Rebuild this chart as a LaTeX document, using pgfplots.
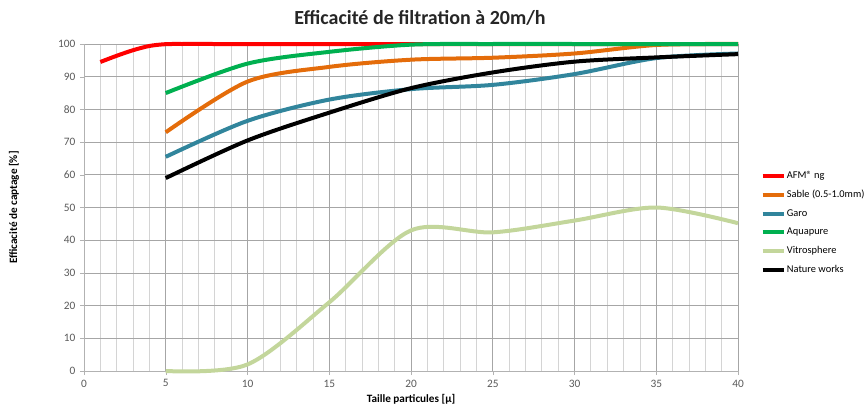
\documentclass[border=0pt]{standalone}
\usepackage{pgfplots}
\pgfplotsset{compat=1.18}
\usepackage{fontspec}
\setmainfont{Carlito}
\definecolor{cafm}{RGB}{255,0,0}
\definecolor{csable}{RGB}{228,108,10}
\definecolor{cgaro}{RGB}{49,133,156}
\definecolor{caqua}{RGB}{0,176,80}
\definecolor{cvitro}{RGB}{195,214,155}
\definecolor{ctick}{RGB}{89,89,89}
\begin{document}
\begin{tikzpicture}
\useasboundingbox (-63pt,-27.75pt) rectangle (585pt,278.25pt);
\begin{axis}[
  scale only axis,
  width=490.5pt, height=245.25pt,
  xmin=0, xmax=40, ymin=0, ymax=100,
  xtick={0,5,...,40}, ytick={0,10,...,100},
  minor x tick num=4,
  axis x line=bottom, axis y line=left,
  axis line style={draw=black!30,-},
  major tick length=3pt, tick align=outside,
  minor tick length=0pt,
  ymajorgrids, xmajorgrids, xminorgrids,
  major grid style={draw=black!35, line width=0.6pt},
  minor grid style={draw=black!17, line width=0.6pt},
  tick style={draw=black!30},
  ticklabel style={font=\fontsize{8.5}{10}\selectfont, text=ctick},
  /pgf/number format/assume math mode=true,
  clip=false,
  legend style={at={(1.034,0.611)}, anchor=north west, draw=none, fill=none,
    font=\fontsize{7.8}{9}\selectfont, row sep=7.2pt, inner sep=0pt,
    nodes={inner xsep=0.8pt, inner ysep=0pt}},
  legend cell align=left,
  legend image code/.code={\draw[#1, line width=3pt] (0pt,0pt) -- (16pt,0pt);},
  every axis plot/.append style={line width=3pt, smooth, no marks},
]
\addplot[cafm] coordinates {(1,94.5) (2,96.4) (3,98.1) (4,99.4) (5,99.95) (6,100) (8,100) (10,100) (15,100) (20,100) (25,100) (30,100) (35,100) (40,100)};
\addlegendentry{AFM® ng}
\addplot[csable] coordinates {(5,73) (10,88.5) (15,93) (20,95.2) (25,95.8) (30,97.1) (35,99.7) (40,100)};
\addlegendentry{Sable (0.5-1.0mm)}
\addplot[cgaro] coordinates {(5,65.5) (10,76.5) (15,83) (20,86.2) (25,87.5) (30,90.8) (35,95.7) (40,97.1)};
\addlegendentry{Garo}
\addplot[caqua] coordinates {(5,85) (10,94) (15,97.6) (20,99.8) (25,100) (30,100) (35,100) (40,100)};
\addlegendentry{Aquapure}
\addplot[cvitro] coordinates {(5,0) (10,2) (15,21) (20,43) (25,42.4) (30,46) (35,50) (40,45.2)};
\addlegendentry{Vitrosphere}
\addplot[black] coordinates {(5,59) (10,70.5) (15,79) (20,86.5) (25,91.3) (30,94.6) (35,95.9) (40,96.9)};
\addlegendentry{Nature works}
\end{axis}
\node[font=\bfseries\fontsize{15}{17}\selectfont, text=black!85] at (252pt,264.75pt) {Efficacité de filtration à 20m/h};
\node[font=\bfseries\fontsize{8.4}{9}\selectfont, rotate=90] at (-52.5pt,122.6pt) {Efficacité de captage [\%]};
\node[font=\bfseries\fontsize{8.4}{9}\selectfont] at (245.25pt,-21.5pt) {Taille particules [µ]};
\end{tikzpicture}
\end{document}
